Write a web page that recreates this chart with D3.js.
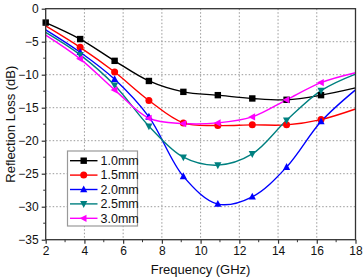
<!DOCTYPE html>
<html><head><meta charset="utf-8">
<script src="https://cdn.jsdelivr.net/npm/d3@7"></script>
<style>body{margin:0;background:#fff}svg{display:block;font-family:"Liberation Sans",Arial,sans-serif}</style>
</head><body><svg id="c" width="363" height="280"></svg>
<script>
const freq = [2, 3.78, 5.56, 7.33, 9.11, 10.89, 12.67, 14.44, 16.22, 18];
const labels = ["1.0mm", "1.5mm", "2.0mm", "2.5mm", "3.0mm"];
const rl10 = [-2.1, -4.6, -7.9, -10.95, -12.6, -13.1, -13.6, -13.8, -13.1, -12.0];
const rl15 = [-2.6, -5.85, -9.6, -13.9, -17.3, -17.7, -17.6, -17.6, -16.8, -15.2];
const rl20 = [-3.2, -6.6, -10.7, -16.4, -25.4, -29.6, -28.5, -24.0, -17.1, -12.3];
const rl25 = [-3.6, -7.0, -11.6, -17.8, -22.5, -23.7, -22.0, -16.9, -12.4, -9.9];
const rl30 = [-4.0, -7.6, -12.3, -16.6, -17.4, -17.3, -16.4, -13.8, -11.2, -9.7];
const xTicks = [2, 4, 6, 8, 10, 12, 14, 16, 18];
const yTicks = [0, -5, -10, -15, -20, -25, -30, -35];

const series = [rl10, rl15, rl20, rl25, rl30];
const colors = ["#000000", "#ff0000", "#0000ff", "#008080", "#ff00ff"];
const symbols = ["square", "circle", "up", "down", "left"];

const svg = d3.select("#c");
const L = 45.7, R = 355.5, T = 8.7, B = 239.7;
const x = d3.scaleLinear().domain([2, 18]).range([L, R]);
const y = d3.scaleLinear().domain([0, -35]).range([T, B]);

// grid
const g = svg.append("g");
g.selectAll(".gx").data(xTicks.slice(1, -1)).join("line")
  .attr("x1", d => x(d)).attr("x2", d => x(d)).attr("y1", T).attr("y2", B)
  .attr("stroke", "#999").attr("stroke-width", 1).attr("stroke-dasharray", "1.5,2");
g.selectAll(".gy").data(yTicks.slice(1, -1)).join("line")
  .attr("y1", d => y(d)).attr("y2", d => y(d)).attr("x1", L).attr("x2", R)
  .attr("stroke", "#999").attr("stroke-width", 1).attr("stroke-dasharray", "1.5,2");

function marker(sel, type, cx, cy, col) {
  const s = 3.6;
  if (type === "square") sel.append("rect").attr("x", cx - 3.2).attr("y", cy - 3.2).attr("width", 6.4).attr("height", 6.4).attr("fill", col);
  else if (type === "circle") sel.append("circle").attr("cx", cx).attr("cy", cy).attr("r", 3.5).attr("fill", col);
  else {
    let pts;
    if (type === "up") pts = [[cx, cy - s - 0.5], [cx - s, cy + s - 0.8], [cx + s, cy + s - 0.8]];
    else if (type === "down") pts = [[cx, cy + s + 0.5], [cx - s, cy - s + 0.8], [cx + s, cy - s + 0.8]];
    else pts = [[cx - s - 0.5, cy], [cx + s - 0.8, cy - s], [cx + s - 0.8, cy + s]];
    sel.append("polygon").attr("points", pts.map(p => p.join(",")).join(" ")).attr("fill", col);
  }
}

const line = d3.line().x((d, i) => x(freq[i])).y(d => y(d)).curve(d3.curveCatmullRom.alpha(0.5));
const clip = svg.append("clipPath").attr("id", "pc").append("rect").attr("x", L).attr("y", T).attr("width", R - L).attr("height", B - T);
const pl = svg.append("g").attr("clip-path", "url(#pc)");
series.forEach((s, k) => {
  pl.append("path").datum(s).attr("d", line).attr("fill", "none").attr("stroke", colors[k]).attr("stroke-width", 1.4);
});
const mk = svg.append("g");
series.forEach((s, k) => {
  s.forEach((v, i) => {
    if (i === 9) return;
    if (i === 0 && k !== 0) return;
    marker(mk, symbols[k], x(freq[i]), y(v), colors[k]);
  });
});

// axes frame
svg.append("rect").attr("x", L).attr("y", T).attr("width", R - L).attr("height", B - T)
  .attr("fill", "none").attr("stroke", "#333").attr("stroke-width", 1.3);

const xa = svg.append("g").attr("transform", `translate(0,${B})`)
  .call(d3.axisBottom(x).tickValues(xTicks).tickSize(4).tickPadding(3).tickFormat(d3.format("d")));
const ya = svg.append("g").attr("transform", `translate(${L},0)`)
  .call(d3.axisLeft(y).tickValues(yTicks).tickSize(4).tickPadding(3).tickFormat(d3.format("d")));
[xa, ya].forEach(a => {
  a.select(".domain").remove();
  a.selectAll("line").attr("stroke", "#333").attr("stroke-width", 1.2);
  a.selectAll("text").attr("font-size", 12).attr("fill", "#111").attr("font-family", "Liberation Sans, Arial, sans-serif");
});
// minor ticks
svg.append("g").selectAll("line").data(d3.range(3, 18, 2)).join("line")
  .attr("x1", d => x(d)).attr("x2", d => x(d)).attr("y1", B).attr("y2", B + 2.5).attr("stroke", "#333");
svg.append("g").selectAll("line").data(d3.range(-2.5, -35, -5)).join("line")
  .attr("y1", d => y(d)).attr("y2", d => y(d)).attr("x1", L).attr("x2", L - 2.5).attr("stroke", "#333");

svg.append("text").attr("x", (L + R) / 2).attr("y", 274).attr("text-anchor", "middle")
  .attr("font-size", 13).attr("fill", "#111").text("Frequency (GHz)");
svg.append("text").attr("transform", `translate(15,${(T + B) / 2}) rotate(-90)`).attr("text-anchor", "middle")
  .attr("font-size", 13).attr("fill", "#111").text("Reflection Loss (dB)");

// legend
const lg = svg.append("g");
lg.append("rect").attr("x", 67.5).attr("y", 151).attr("width", 70).attr("height", 75)
  .attr("fill", "#fff").attr("stroke", "#999").attr("stroke-width", 1.2);
labels.forEach((lab, k) => {
  const yy = 160.7 + k * 14.4;
  lg.append("line").attr("x1", 70).attr("x2", 97.5).attr("y1", yy).attr("y2", yy).attr("stroke", colors[k]).attr("stroke-width", 1.4);
  marker(lg, symbols[k], 83.7, yy, colors[k]);
  lg.append("text").attr("x", 100.5).attr("y", yy + 4.3).attr("font-size", 12.5).attr("fill", "#111").text(lab);
});
</script></body></html>
